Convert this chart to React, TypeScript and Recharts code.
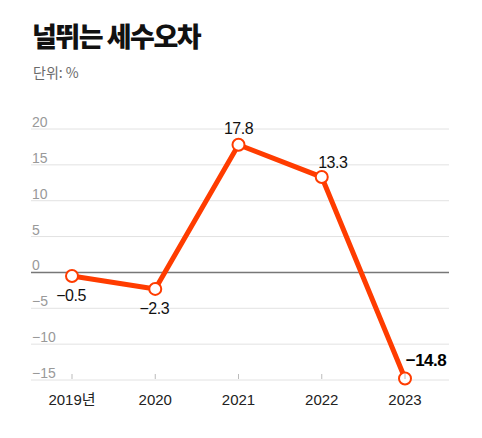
import React from "react";
import {
  LineChart,
  Line,
  XAxis,
  YAxis,
  CartesianGrid,
  ReferenceLine,
  LabelList,
} from "recharts";

const years = ["2019년", "2020", "2021", "2022", "2023"];
const errors = [-0.5, -2.3, 17.8, 13.3, -14.8];
const yTicks = [-15, -10, -5, 0, 5, 10, 15, 20];
const valueLabels = ["−0.5", "−2.3", "17.8", "13.3", "−14.8"];

const data = years.map((y, i) => ({ year: y, value: errors[i], label: valueLabels[i] }));

const W = 482;
const H = 438;
const M = { top: 129, right: 33, bottom: 57, left: 30 };
const PLOT_LEFT = 31;
const PLOT_BOTTOM = 380;
const RED = "#ff3c00";
const FONT = "'Liberation Sans', 'Noto Sans CJK KR', sans-serif";

const labelOffsets = [
  { dx: -1, dy: 25, bold: false },
  { dx: -1, dy: 25, bold: false },
  { dx: 0, dy: -11, bold: false },
  { dx: 11, dy: -9, bold: false },
  { dx: 21, dy: -13, bold: true },
];

const renderYTick = (props: any) => {
  const { y, payload } = props;
  const v = payload.value as number;
  return (
    <text
      key={"y" + v}
      x={PLOT_LEFT + 1}
      y={y - 2}
      fill="#999"
      fontSize={14}
      fontFamily={FONT}
      textAnchor="start"
    >
      {v < 0 ? "−" + Math.abs(v) : String(v)}
    </text>
  );
};

const renderXTick = (props: any) => {
  const { x, payload } = props;
  return (
    <g key={"x" + payload.value}>
      <line x1={x} x2={x} y1={PLOT_BOTTOM - 6} y2={PLOT_BOTTOM - 1} stroke="#bbb" strokeWidth={1} />
      <text
        x={x}
        y={PLOT_BOTTOM + 25}
        fill="#222"
        fontSize={15}
        fontFamily={FONT}
        textAnchor="middle"
      >
        {payload.value}
      </text>
    </g>
  );
};

const renderValueLabel = (props: any) => {
  const { x, y, index, value } = props;
  const o = labelOffsets[index];
  return (
    <text
      key={"l" + index}
      x={x + o.dx}
      y={y + o.dy}
      fill={o.bold ? "#000" : "#111"}
      fontSize={o.bold ? 17 : 16}
      fontWeight={o.bold ? 700 : 400}
      fontFamily={FONT}
      textAnchor="middle"
      letterSpacing={-0.5}
    >
      {value}
    </text>
  );
};

export default function App() {
  return (
    <div
      style={{
        position: "absolute",
        left: 0,
        top: 0,
        width: W,
        height: H,
        background: "#fff",
        fontFamily: FONT,
      }}
    >
      <div
        style={{
          position: "absolute",
          left: 32,
          top: 19,
          fontFamily: "'Noto Sans CJK KR', sans-serif",
          fontWeight: 900,
          fontSize: 27,
          letterSpacing: -1.5,
          color: "#111",
          lineHeight: "34px",
          whiteSpace: "nowrap",
        }}
      >
        널뛰는 세수오차
      </div>
      <div
        style={{
          position: "absolute",
          left: 33,
          top: 62,
          fontFamily: "'Noto Sans CJK KR', sans-serif",
          fontSize: 14,
          color: "#6a6a6a",
          lineHeight: "20px",
          whiteSpace: "nowrap",
        }}
      >
        단위: %
      </div>
      <div style={{ position: "absolute", left: 0, top: 0 }}>
        <LineChart width={W} height={H} data={data} margin={M}>
          <CartesianGrid horizontal vertical={false} stroke="#e2e2e2" strokeWidth={1} />
          <XAxis
            dataKey="year"
            axisLine={false}
            tickLine={false}
            padding={{ left: 41, right: 44 }}
            tick={renderXTick}
            interval={0}
            height={1}
          />
          <YAxis
            domain={[-15, 20]}
            ticks={yTicks}
            axisLine={false}
            tickLine={false}
            width={1}
            tick={renderYTick}
            interval={0}
          />
          <ReferenceLine y={0} stroke="#777" strokeWidth={1.5} />
          <Line
            type="linear"
            dataKey="value"
            stroke={RED}
            strokeWidth={5}
            dot={{ r: 6, fill: "#fff", stroke: RED, strokeWidth: 2 }}
            activeDot={false}
            isAnimationActive={false}
          >
            <LabelList dataKey="label" content={renderValueLabel} />
          </Line>
        </LineChart>
      </div>
    </div>
  );
}
